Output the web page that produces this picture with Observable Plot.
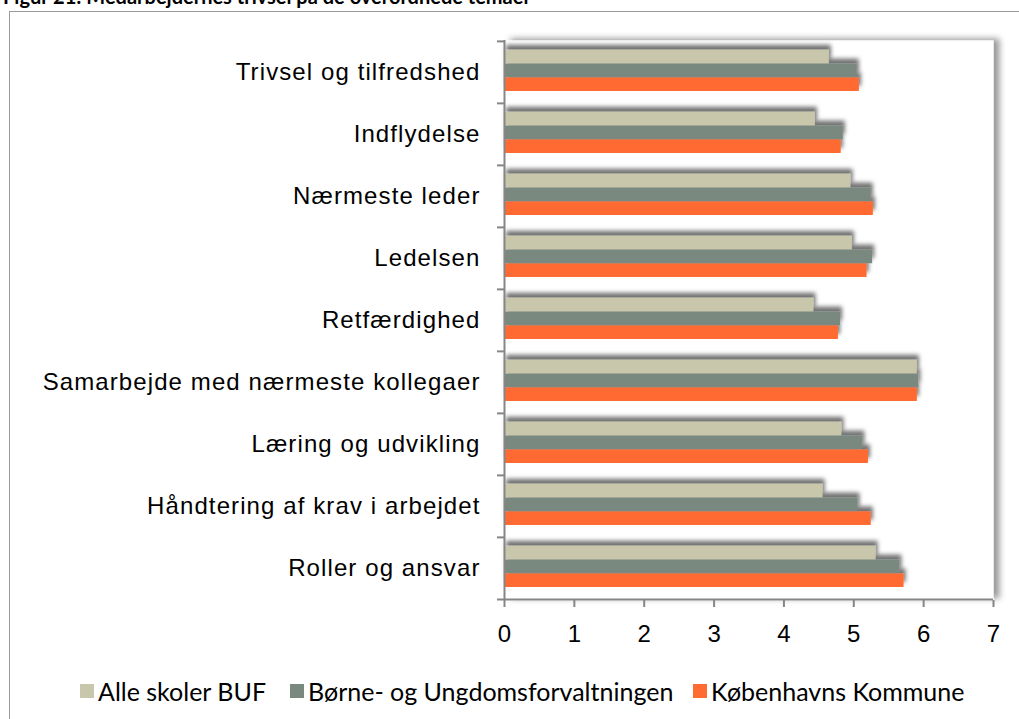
<!DOCTYPE html>
<html>
<head>
<meta charset="utf-8">
<script src="https://cdn.jsdelivr.net/npm/d3@7"></script>
<script src="https://cdn.jsdelivr.net/npm/@observablehq/plot@0.6"></script>
<style>
  html, body { margin: 0; padding: 0; background: #fff; }
  body { width: 1019px; height: 719px; overflow: hidden; position: relative; }
  #title { position: absolute; left: 3px; top: -14px; font: bold 20px/20px Lato, sans-serif; color: #000; white-space: nowrap; }
  #box { position: absolute; left: 9px; top: 11px; width: 1100px; height: 800px; border: 1.5px solid #9a9a9a; }
  #chart { position: absolute; left: 0; top: 0; }
  .lg { position: absolute; top: 676px; font: 25px Lato, sans-serif; color: #000; white-space: nowrap; display: flex; align-items: center; }
  .lg span.sw { display: inline-block; width: 14px; height: 14px; margin-right: 4px; }
</style>
</head>
<body>
<div id="title">Figur 21: Medarbejdernes trivsel på de overordnede temaer</div>
<div id="box"></div>
<div id="chart"></div>
<div id="legend"></div>
<script>
const categories = [
  "Trivsel og tilfredshed",
  "Indflydelse",
  "Nærmeste leder",
  "Ledelsen",
  "Retfærdighed",
  "Samarbejde med nærmeste kollegaer",
  "Læring og udvikling",
  "Håndtering af krav i arbejdet",
  "Roller og ansvar"
];
const seriesNames = ["Alle skoler BUF", "Børne- og Ungdomsforvaltningen", "Københavns Kommune"];
const seriesColors = ["#C8C7AB", "#7A8980", "#FF6B30"];
const alleSkolerBUF = [4.65, 4.45, 4.96, 4.98, 4.43, 5.91, 4.83, 4.56, 5.32];
const boerneUngdom = [5.05, 4.85, 5.25, 5.27, 4.81, 5.93, 5.13, 5.06, 5.66];
const koebenhavn   = [5.08, 4.82, 5.28, 5.19, 4.78, 5.91, 5.21, 5.25, 5.72];
const xTicks = [0, 1, 2, 3, 4, 5, 6, 7];

const seriesValues = [alleSkolerBUF, boerneUngdom, koebenhavn];
const rows = seriesValues.map((vals, s) => categories.map((c, i) => ({category: c, series: seriesNames[s], value: vals[i]})));

const W = 1019, H = 719, mT = 40, mB = 119, mL = 504, mR = 26;
const bw = (H - mT - mB) / categories.length;
const barH = 13.8, off = 8.8;
const axisColor = "#868686";

function barsFor(s) {
  const top = off + s * barH;
  return Plot.barX(rows[s], {
    x: "value", y: "category", fill: seriesColors[s],
    insetTop: top, insetBottom: bw - top - barH
  });
}

const svg = Plot.plot({
  width: W, height: H,
  marginTop: mT, marginBottom: mB, marginLeft: mL, marginRight: mR,
  style: {fontFamily: "'Liberation Sans', Arial, sans-serif", background: "transparent", overflow: "visible"},
  x: {domain: [0, 7], ticks: xTicks},
  y: {domain: categories, padding: 0},
  marks: [
    Plot.frame({fill: "white", stroke: null}),
    barsFor(2),
    barsFor(1),
    barsFor(0),
    Plot.ruleX([0], {stroke: axisColor, strokeWidth: 2}),
    Plot.ruleY(categories, {y: d => d, x1: -0.1, x2: 0, dy: -bw / 2, stroke: axisColor, strokeWidth: 2}),
    Plot.ruleY([categories[categories.length - 1]], {y: d => d, x1: -0.1, x2: 7, dy: bw / 2, stroke: axisColor, strokeWidth: 2}),
    Plot.axisY({tickSize: 0, tickPadding: 24, fontSize: 24, label: null}),
    Plot.axisX({ticks: xTicks, tickSize: 7, tickPadding: 17, fontSize: 24, stroke: axisColor, strokeWidth: 2, label: null, tickFormat: d => String(d)})
  ]
});

// Drop shadows and text styling
const defs = d3.select(svg).insert("defs", ":first-child");
const f1 = defs.append("filter").attr("id", "barShadow").attr("x", "-10%").attr("y", "-100%").attr("width", "130%").attr("height", "300%");
f1.append("feDropShadow").attr("dx", 2).attr("dy", -5).attr("stdDeviation", 2.2).attr("flood-color", "#000").attr("flood-opacity", 0.55);
const f2 = defs.append("filter").attr("id", "frameShadow").attr("x", "-5%").attr("y", "-5%").attr("width", "115%").attr("height", "115%");
f2.append("feDropShadow").attr("dx", 6).attr("dy", -2).attr("stdDeviation", 3).attr("flood-color", "#000").attr("flood-opacity", 0.4);
d3.select(svg).selectAll('g[aria-label="bar"] rect').attr("filter", "url(#barShadow)");
d3.select(svg).selectAll('[aria-label="frame"]').attr("filter", "url(#frameShadow)");
d3.select(svg).selectAll('[aria-label="y-axis tick label"] text, [aria-label="x-axis tick label"] text').attr("fill", "#000");
d3.select(svg).selectAll('[aria-label="y-axis tick label"] text').attr("letter-spacing", "1.1px");

document.getElementById("chart").appendChild(svg);

// Legend
const legendX = [80, 290, 693];
const legend = document.getElementById("legend");
seriesNames.forEach((name, s) => {
  const d = document.createElement("div");
  d.className = "lg";
  d.style.left = legendX[s] + "px";
  const sw = document.createElement("span");
  sw.className = "sw";
  sw.style.background = seriesColors[s];
  d.appendChild(sw);
  d.appendChild(document.createTextNode(name));
  legend.appendChild(d);
});
</script>
</body>
</html>
